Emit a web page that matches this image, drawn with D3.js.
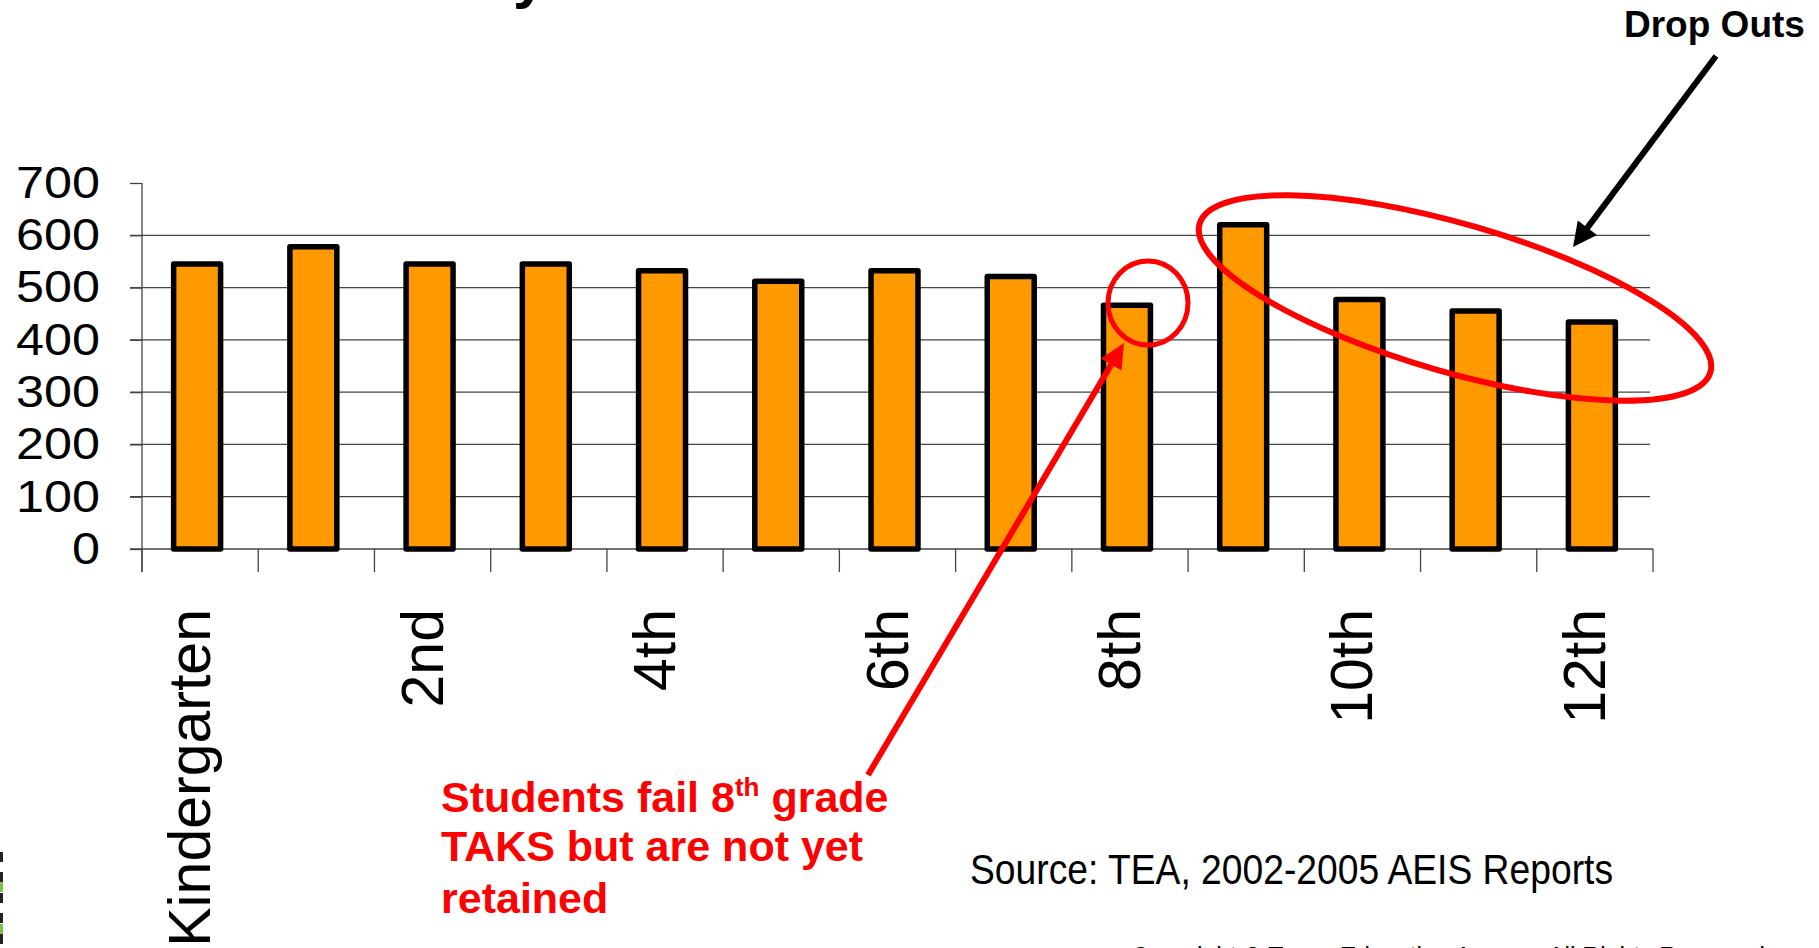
<!DOCTYPE html>
<html>
<head>
<meta charset="utf-8">
<script src="https://cdn.jsdelivr.net/npm/d3@7"></script>
<style>
  body { margin: 0; background: #fff; }
  svg { display: block; font-family: "Liberation Sans", Arial, sans-serif; }
</style>
</head>
<body>
<svg id="chart" width="1819" height="948"></svg>
<script>
// data
var grades = ["Kindergarten", "1st", "2nd", "3rd", "4th", "5th", "6th",
              "7th", "8th", "9th", "10th", "11th", "12th"];
var students = [545, 578, 545, 545, 532, 512, 532, 521, 466, 620, 477, 455, 434];
var yTicks = [0, 100, 200, 300, 400, 500, 600, 700];
var gridTicks = [100, 200, 300, 400, 500, 600];
var shownLabels = ["Kindergarten", "2nd", "4th", "6th", "8th", "10th", "12th"];

var svg = d3.select("#chart");

// plot area
var plotLeft = 142, plotRight = 1653, plotTop = 183, plotBottom = 549;

var x = d3.scaleBand()
    .domain(grades)
    .range([plotLeft, plotRight]);

var y = d3.scaleLinear()
    .domain([0, 700])
    .range([plotBottom, plotTop]);

// cut-off title glyph at the very top
svg.append("text")
    .attr("x", 513).attr("y", -3)
    .style("font-size", "60px").style("font-weight", "bold")
    .text("y");

// gridlines
svg.append("g")
    .selectAll("line")
    .data(gridTicks)
    .enter()
    .append("line")
    .attr("x1", plotLeft - 12).attr("x2", plotRight - 3)
    .attr("y1", function(d) { return y(d); })
    .attr("y2", function(d) { return y(d); })
    .attr("stroke", "#444").attr("stroke-width", 1.3);

// y axis
var yAxis = svg.append("g")
    .attr("transform", "translate(" + plotLeft + ",0)")
    .call(d3.axisLeft(y).tickValues(yTicks).tickSize(12).tickPadding(30).tickSizeOuter(0));
yAxis.select(".domain").remove();
yAxis.selectAll(".tick line").attr("stroke", "#444").attr("stroke-width", 1.3);
yAxis.selectAll(".tick text")
    .style("font-size", "45px")
    .style("font-family", "'Liberation Sans', Arial, sans-serif")
    .attr("textLength", function(d) { return String(d).length * 28; })
    .attr("lengthAdjust", "spacingAndGlyphs")
    .attr("fill", "#000");
svg.append("line")
    .attr("x1", plotLeft).attr("x2", plotLeft)
    .attr("y1", plotTop).attr("y2", plotBottom + 23)
    .attr("stroke", "#444").attr("stroke-width", 1.3);

// x axis line and ticks at category boundaries
svg.append("line")
    .attr("x1", plotLeft - 12).attr("x2", plotRight)
    .attr("y1", plotBottom).attr("y2", plotBottom)
    .attr("stroke", "#444").attr("stroke-width", 1.3);
var bounds = grades.map(function(g) { return x(g); }).concat([plotRight]);
svg.append("g")
    .selectAll("line")
    .data(bounds)
    .enter()
    .append("line")
    .attr("x1", function(d) { return d; })
    .attr("x2", function(d) { return d; })
    .attr("y1", plotBottom).attr("y2", plotBottom + 23)
    .attr("stroke", "#444").attr("stroke-width", 1.3);

// bars
var barW = x.bandwidth() * 0.404;
svg.append("g")
    .selectAll("rect")
    .data(students)
    .enter()
    .append("rect")
    .attr("x", function(d, i) { return x(grades[i]) + x.bandwidth() / 2 - barW / 2 - 3; })
    .attr("y", function(d) { return y(d); })
    .attr("width", barW)
    .attr("height", function(d) { return y(0) - y(d); })
    .attr("fill", "#FF9900")
    .attr("stroke", "#000")
    .attr("stroke-width", 5.5)
    .attr("stroke-linejoin", "round");

// rotated category labels
svg.append("g")
    .selectAll("text")
    .data(shownLabels)
    .enter()
    .append("text")
    .attr("transform", function(d) {
        return "translate(" + (x(d) + x.bandwidth() / 2 + 10) + "," + (plotBottom + 60) + ") rotate(-90)";
    })
    .attr("text-anchor", "end")
    .style("font-size", "59px")
    .text(function(d) { return d; });

// arrows
function arrow(x1, y1, x2, y2, color, w, headLen, headHalf) {
    var dx = x2 - x1, dy = y2 - y1, len = Math.sqrt(dx * dx + dy * dy);
    var ux = dx / len, uy = dy / len;
    var bx = x2 - ux * headLen, by = y2 - uy * headLen;
    svg.append("line")
        .attr("x1", x1).attr("y1", y1)
        .attr("x2", bx + ux * 2).attr("y2", by + uy * 2)
        .attr("stroke", color).attr("stroke-width", w);
    svg.append("path")
        .attr("d", "M" + x2 + "," + y2 +
                   "L" + (bx - uy * headHalf) + "," + (by + ux * headHalf) +
                   "L" + (bx + uy * headHalf) + "," + (by - ux * headHalf) + "Z")
        .attr("fill", color);
}

// red circle on 8th grade
svg.append("ellipse")
    .attr("cx", 1148).attr("cy", 303)
    .attr("rx", 40).attr("ry", 42)
    .attr("fill", "none").attr("stroke", "#FF0000").attr("stroke-width", 5);

// red ellipse round the upper grades
svg.append("ellipse")
    .attr("transform", "translate(1455,298) rotate(16.2)")
    .attr("rx", 266).attr("ry", 74)
    .attr("fill", "none").attr("stroke", "#FF0000").attr("stroke-width", 6);

arrow(868, 775, 1124, 343, "#FF0000", 6, 25, 12);
arrow(1716, 56, 1573, 247, "#000", 6, 24, 12);

// annotations
svg.append("text")
    .attr("x", 1624).attr("y", 37)
    .style("font-size", "37px").style("font-weight", "bold")
    .text("Drop Outs");

var note = svg.append("text")
    .attr("fill", "#FF0000")
    .style("font-size", "43px").style("font-weight", "bold");
var l1 = note.append("tspan").attr("x", 441).attr("y", 812);
l1.append("tspan").text("Students fail 8");
l1.append("tspan").attr("dy", -16).style("font-size", "26px").text("th");
l1.append("tspan").attr("dy", 16).text(" grade");
note.append("tspan").attr("x", 441).attr("y", 861).text("TAKS but are not yet");
note.append("tspan").attr("x", 441).attr("y", 913).text("retained");

svg.append("text")
    .attr("x", 970).attr("y", 884)
    .attr("textLength", 643).attr("lengthAdjust", "spacingAndGlyphs")
    .style("font-size", "42px")
    .text("Source: TEA, 2002-2005 AEIS Reports");

svg.append("text")
    .attr("x", 1131).attr("y", 966)
    .attr("textLength", 634).attr("lengthAdjust", "spacingAndGlyphs")
    .style("font-size", "28px")
    .text("Copyright \u00A9 Texas Education Agency. All Rights Reserved");

// logo edge at the lower left
var logo = [["#222", 852], ["#222", 872], ["#7DC242", 882], ["#222", 893], ["#222", 913], ["#7DC242", 924], ["#222", 934]];
svg.append("g")
    .selectAll("rect")
    .data(logo)
    .enter()
    .append("rect")
    .attr("x", 0).attr("width", 3)
    .attr("y", function(d) { return d[1]; })
    .attr("height", 10)
    .attr("fill", function(d) { return d[0]; });
</script>
</body>
</html>
